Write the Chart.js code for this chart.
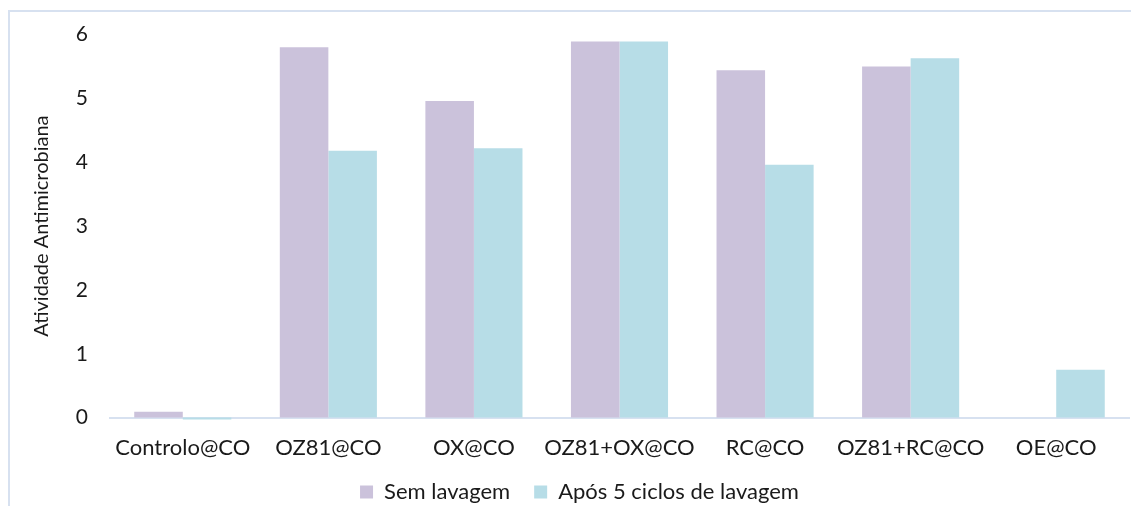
<!DOCTYPE html>
<html>
<head>
<meta charset="utf-8">
<script src="https://cdn.jsdelivr.net/npm/chart.js@4"></script>
<style>
    html, body { margin: 0; padding: 0; background: #fff; overflow: hidden; }
    #wrap { position: relative; width: 1131px; height: 506px; overflow: hidden; }
    #frame {
        position: absolute; left: 8px; top: 10px; width: 1400px; height: 700px;
        border-left: 2px solid #D7E1F0; border-top: 2px solid #D7E1F0;
    }
    canvas { position: absolute; left: 0; top: 0; }
</style>
</head>
<body>
<div id="wrap">
    <div id="frame"></div>
    <canvas id="chart" width="1131" height="506"></canvas>
</div>
<script>
    // Categories and series
    const categories = ["Controlo@CO", "OZ81@CO", "OX@CO", "OZ81+OX@CO", "RC@CO", "OZ81+RC@CO", "OE@CO"];
    const semLavagem = [0.09, 5.80, 4.96, 5.89, 5.44, 5.50, 0];
    const aposLavagem = [-0.03, 4.18, 4.22, 5.89, 3.96, 5.63, 0.75];
    const seriesNames = ["Sem lavagem", "Após 5 ciclos de lavagem"];

    const fontFamily = "Lato, 'Open Sans', sans-serif";
    const textColor = "#1a1a1a";
    const legendHeight = 28;   // space kept for the legend
    const legendShift = 21;    // legend box grown upwards after layout

    // keep the legend compact while leaving a wide gap between its items
    const legendHeightPlugin = {
        id: "legendHeight",
        beforeLayout(chart) {
            const legend = chart.legend;
            if (legend && !legend._fitWrapped) {
                const origFit = legend.fit;
                legend.fit = function () {
                    origFit.call(this);
                    this.height = legendHeight;
                };
                legend._fitWrapped = true;
            }
        },
        afterLayout(chart) {
            const legend = chart.legend;
            if (legend) {
                legend.top -= legendShift;
                legend.height += legendShift;
            }
        }
    };

    const ctx = document.querySelector("#chart").getContext("2d");

    new Chart(ctx, {
        type: "bar",
        data: {
            labels: categories,
            datasets: [
                {
                    label: seriesNames[0],
                    data: semLavagem,
                    backgroundColor: "#CBC2DB",
                    borderWidth: 0,
                    clip: false
                },
                {
                    label: seriesNames[1],
                    data: aposLavagem,
                    backgroundColor: "#B7DDE7",
                    borderWidth: 0,
                    clip: false
                }
            ]
        },
        plugins: [legendHeightPlugin],
        options: {
            responsive: false,
            animation: false,
            layout: { padding: { left: 30, right: 2, top: 32, bottom: 0 } },
            datasets: {
                bar: { categoryPercentage: 0.667, barPercentage: 1.0 }
            },
            plugins: {
                tooltip: { enabled: false },
                legend: {
                    position: "bottom",
                    labels: {
                        boxWidth: 13,
                        boxHeight: 13,
                        padding: 24,
                        color: textColor,
                        font: { family: fontFamily, size: 22 }
                    }
                }
            },
            scales: {
                x: {
                    grid: { display: false, drawTicks: false },
                    border: { display: true, color: "#D7E1F0", width: 2 },
                    ticks: {
                        padding: 17,
                        maxRotation: 0,
                        minRotation: 0,
                        autoSkip: false,
                        color: textColor,
                        font: { family: fontFamily, size: 22 }
                    }
                },
                y: {
                    min: 0,
                    max: 6,
                    afterFit: (scale) => { scale.width = 80; },
                    grid: { display: false, drawTicks: false },
                    border: { display: false },
                    ticks: {
                        stepSize: 1,
                        padding: 22,
                        color: textColor,
                        font: { family: fontFamily, size: 21 }
                    },
                    title: {
                        display: true,
                        text: "Atividade Antimicrobiana",
                        color: textColor,
                        padding: 0,
                        font: { family: fontFamily, size: 20 }
                    }
                }
            }
        }
    });
</script>
</body>
</html>
